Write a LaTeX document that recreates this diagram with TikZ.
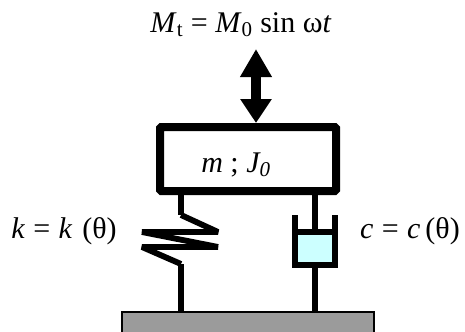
\documentclass[tikz,border=0pt]{standalone}
\usepackage{fontspec}
\setmainfont{Liberation Serif}
\usetikzlibrary{arrows.meta}
\definecolor{oilcolor}{RGB}{204,255,255}
\definecolor{groundcolor}{RGB}{155,155,155}
\begin{document}
\begin{tikzpicture}[x=0.75pt,y=-0.75pt,
          every node/.style={font=\fontsize{22.5}{26}\selectfont,inner sep=0pt},
          rod/.style={line width=4pt},
          coil/.style={line width=4.4pt,line join=bevel},
          cup/.style={line width=4pt,line join=miter}]
        \clip (0,0) rectangle (465,332);
        % labels
        \node[anchor=base] (force) at (241,32) {\textit{M}\textsubscript{t} = \textit{M}\textsubscript{0} sin ω\textit{t}};
        \node[anchor=base] (stiff) at (64,238) {\textit{k}\;=\;\textit{k}\,\,(θ)};
        \node[anchor=base] (damp) at (410,238) {\textit{c}\;=\;\textit{c}\,(θ)};
        % mass and ground
        \node[draw,line width=6pt,rounded corners=1pt,minimum width=132pt,minimum height=48pt] (block) at (248,159) {};
        \node[anchor=base] (blocktext) at (236,172) {\textit{m} ; \textit{J\textsubscript{0}}};
        \node[draw,line width=0.8pt,fill=groundcolor,minimum width=189pt,minimum height=30pt] (ground) at (248,332) {};
        % excitation arrow
        \coordinate (arrowtop) at (256,49);
        \draw[line width=8pt,{Triangle[width=22.5pt,length=21pt]}-{Triangle[width=22.5pt,length=18pt]}]
            (arrowtop) -- (arrowtop |- block.north);
        % spring
        \coordinate (sp0) at (181,215);
        \coordinate (sp1) at (218,232);
        \coordinate (sp2) at (142,232);
        \coordinate (sp3) at (218,247);
        \coordinate (sp4) at (142,247);
        \coordinate (sp5) at (181,264);
        \draw[rod] (block.south -| sp0) -- (sp0);
        \draw[coil] (sp0) -- (sp1) -- (sp2) -- (sp3) -- (sp4) -- (sp5);
        \draw[rod] (sp5) -- (sp5 |- ground.north);
        % damper
        \coordinate (cupL) at (295,215);
        \coordinate (cupR) at (335,215);
        \coordinate (piston) at (315,232);
        \coordinate (cupB) at (315,265);
        \fill[oilcolor] (cupL |- piston) rectangle (cupR |- cupB);
        \draw[rod] (block.south -| piston) -- (piston);
        \draw[rod] (cupL |- piston) -- (cupR |- piston);
        \draw[cup] (cupL) -- (cupL |- cupB) -- (cupR |- cupB) -- (cupR);
        \draw[rod] (cupB) -- (cupB |- ground.north);
\end{tikzpicture}
\end{document}
